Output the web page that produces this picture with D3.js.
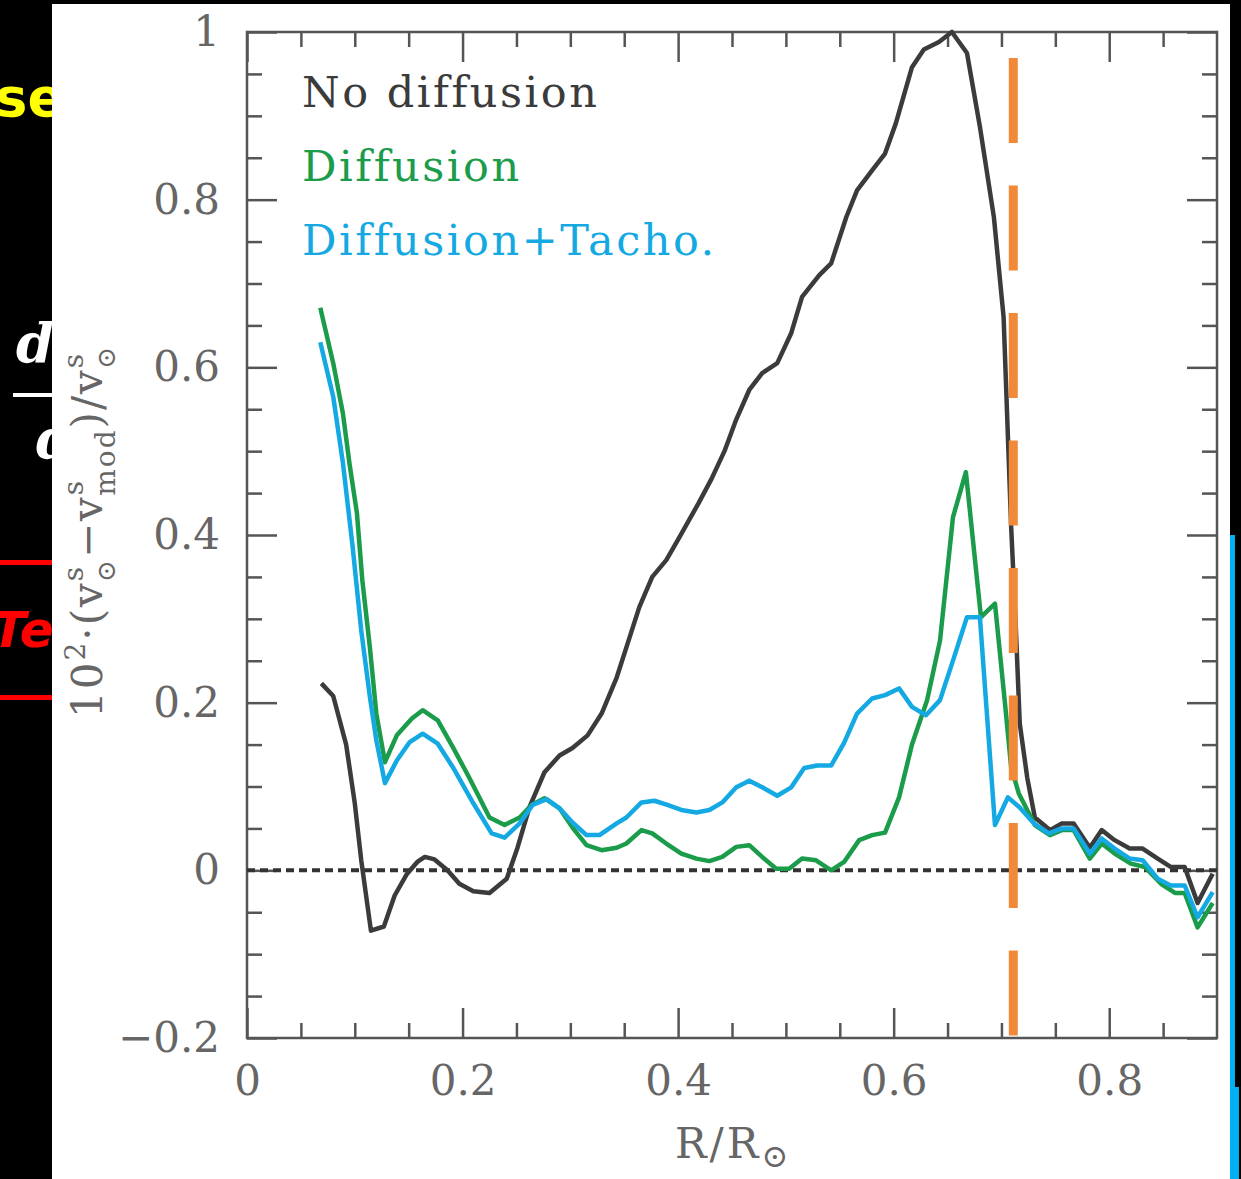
<!DOCTYPE html>
<html>
<head>
<meta charset="utf-8">
<script src="https://cdn.jsdelivr.net/npm/d3@7"></script>
<style>
  body { margin: 0; background: #000; }
  svg { display: block; }
</style>
</head>
<body>
<div id="visualContainer"></div>
<script>
// No diffusion (black)
var noDiffR = [0.069,0.080,0.092,0.100,0.106,0.115,0.127,0.137,0.148,0.158,0.165,0.174,0.186,0.197,0.210,0.225,0.241,0.251,0.262,0.276,0.290,0.302,0.316,0.329,0.343,0.352,0.364,0.376,0.389,0.401,0.419,0.431,0.443,0.454,0.466,0.478,0.492,0.505,0.515,0.531,0.542,0.556,0.566,0.580,0.592,0.602,0.617,0.628,0.642,0.654,0.668,0.680,0.693,0.702,0.709,0.713,0.717,0.724,0.731,0.745,0.756,0.767,0.782,0.793,0.805,0.819,0.831,0.845,0.857,0.870,0.882,0.896];
var noDiffV = [0.223,0.208,0.150,0.080,0.012,-0.072,-0.067,-0.030,-0.005,0.010,0.016,0.013,0.000,-0.016,-0.025,-0.027,-0.010,0.027,0.075,0.117,0.137,0.146,0.161,0.187,0.230,0.266,0.314,0.350,0.370,0.397,0.438,0.467,0.500,0.538,0.573,0.593,0.605,0.641,0.684,0.710,0.724,0.779,0.811,0.835,0.855,0.891,0.958,0.979,0.988,1.000,0.975,0.887,0.779,0.660,0.410,0.300,0.175,0.110,0.063,0.048,0.056,0.056,0.027,0.048,0.036,0.026,0.026,0.014,0.004,0.004,-0.039,-0.004];

// Diffusion (green)
var diffR = [0.068,0.080,0.089,0.095,0.102,0.107,0.114,0.120,0.128,0.139,0.153,0.163,0.177,0.191,0.206,0.225,0.239,0.253,0.264,0.276,0.290,0.302,0.315,0.329,0.343,0.352,0.366,0.376,0.389,0.403,0.417,0.429,0.441,0.454,0.466,0.478,0.491,0.503,0.515,0.528,0.542,0.554,0.568,0.580,0.592,0.605,0.617,0.631,0.643,0.655,0.667,0.681,0.694,0.703,0.709,0.716,0.731,0.745,0.756,0.767,0.782,0.793,0.805,0.820,0.833,0.848,0.861,0.870,0.882,0.896];
var diffV = [0.671,0.605,0.545,0.486,0.426,0.346,0.266,0.187,0.129,0.161,0.181,0.191,0.179,0.147,0.111,0.063,0.054,0.063,0.078,0.086,0.074,0.051,0.030,0.024,0.027,0.032,0.048,0.044,0.032,0.020,0.014,0.011,0.016,0.028,0.030,0.016,0.002,0.002,0.014,0.012,0.000,0.010,0.036,0.042,0.045,0.087,0.150,0.203,0.274,0.421,0.475,0.302,0.318,0.203,0.123,0.092,0.054,0.042,0.048,0.048,0.014,0.032,0.020,0.008,0.004,-0.016,-0.027,-0.027,-0.068,-0.039];

// Diffusion + Tachocline (blue)
var tachoR = [0.068,0.080,0.089,0.098,0.106,0.114,0.120,0.128,0.139,0.151,0.163,0.177,0.191,0.210,0.227,0.239,0.253,0.265,0.278,0.290,0.302,0.315,0.327,0.343,0.352,0.366,0.378,0.390,0.403,0.417,0.429,0.441,0.454,0.466,0.478,0.492,0.505,0.517,0.529,0.542,0.554,0.566,0.580,0.592,0.605,0.617,0.630,0.643,0.656,0.668,0.680,0.694,0.706,0.717,0.730,0.744,0.756,0.767,0.782,0.793,0.805,0.819,0.831,0.845,0.857,0.870,0.882,0.896];
var tachoV = [0.630,0.565,0.486,0.386,0.286,0.207,0.155,0.104,0.131,0.153,0.163,0.151,0.123,0.080,0.044,0.039,0.056,0.078,0.085,0.074,0.057,0.042,0.042,0.056,0.063,0.081,0.083,0.078,0.072,0.069,0.072,0.081,0.099,0.107,0.099,0.089,0.099,0.122,0.125,0.125,0.152,0.187,0.205,0.209,0.217,0.195,0.185,0.203,0.254,0.302,0.302,0.054,0.087,0.075,0.056,0.044,0.050,0.050,0.020,0.038,0.026,0.014,0.012,-0.010,-0.018,-0.018,-0.056,-0.026];

var seriesNames = ["No diffusion", "Diffusion", "Diffusion+Tacho."];
var seriesColors = ["#3b3b3b", "#1a9c4a", "#14a9e3"];
var baseOfCZ = 0.711;   // orange dashed line
var xMajor = [0, 0.2, 0.4, 0.6, 0.8];
var yMajor = [-0.2, 0, 0.2, 0.4, 0.6, 0.8, 1];

var W = 1241, H = 1179;
var svgCanvas = d3.select("#visualContainer").append("svg")
  .attr("width", W).attr("height", H);

// slide background
svgCanvas.append("rect").attr("width", W).attr("height", H).attr("fill", "#000");

// bits of the slide peeking out on the left
svgCanvas.append("text").attr("x", 64).attr("y", 116).attr("text-anchor", "end")
  .attr("font-family", "DejaVu Sans").attr("font-weight", "bold").attr("font-size", 54)
  .attr("fill", "#ffff00").text("se");
svgCanvas.append("text").attr("x", 16).attr("y", 362)
  .attr("font-family", "DejaVu Serif").attr("font-style", "italic").attr("font-weight", "bold")
  .attr("font-size", 54).attr("fill", "#fff").text("d");
svgCanvas.append("rect").attr("x", 13).attr("y", 393).attr("width", 45).attr("height", 4).attr("fill", "#fff");
svgCanvas.append("text").attr("x", 36).attr("y", 458)
  .attr("font-family", "DejaVu Serif").attr("font-style", "italic").attr("font-weight", "bold")
  .attr("font-size", 54).attr("fill", "#fff").text("d");
svgCanvas.append("rect").attr("x", 0).attr("y", 560).attr("width", 60).attr("height", 5).attr("fill", "#ff0000");
svgCanvas.append("rect").attr("x", 0).attr("y", 695).attr("width", 60).attr("height", 5).attr("fill", "#ff0000");
svgCanvas.append("text").attr("x", -8).attr("y", 647)
  .attr("font-family", "DejaVu Sans").attr("font-style", "italic").attr("font-weight", "bold")
  .attr("font-size", 50).attr("fill", "#ff0000").text("Te");

// white picture of the plot
svgCanvas.append("rect").attr("x", 52).attr("y", 4).attr("width", 1178).attr("height", H - 4).attr("fill", "#fff");
// blue bar on the right edge
svgCanvas.append("rect").attr("x", 1230).attr("y", 535).attr("width", 5).attr("height", 560).attr("fill", "#00b0f0");
svgCanvas.append("rect").attr("x", 1230).attr("y", 1087).attr("width", 9).attr("height", 92).attr("fill", "#00b0f0");

var plotL = 247, plotR = 1217, plotT = 32, plotB = 1038;
var x = d3.scaleLinear().domain([0, 0.9]).range([plotL, plotR]);
var y = d3.scaleLinear().domain([-0.2, 1]).range([plotB, plotT]);

var axisColor = "#555";
var tickFont = "DejaVu Serif";

function minorTicks(lo, hi) {
  var out = [];
  for (var i = Math.round(lo / 0.05); i <= Math.round(hi / 0.05); i++) {
    if (i % 4 !== 0) out.push(i * 0.05);
  }
  return out;
}

function styleAxis(g) {
  g.select(".domain").remove();
  g.selectAll(".tick line").attr("stroke", axisColor).attr("stroke-width", 2.5);
  g.selectAll(".tick text").attr("fill", "#666").attr("font-family", tickFont).attr("font-size", 42);
}

// bottom axis with labels
svgCanvas.append("g").attr("transform", "translate(0," + plotB + ")")
  .call(d3.axisBottom(x).tickValues(xMajor).tickSize(-30).tickPadding(27)
    .tickFormat(function(d){ return d === 0 ? "0" : d3.format(".1f")(d); }))
  .call(styleAxis);
svgCanvas.append("g").attr("transform", "translate(0," + plotB + ")")
  .call(d3.axisBottom(x).tickValues(minorTicks(0.05, 0.85)).tickSize(-15).tickFormat(""))
  .call(styleAxis);
// top axis
svgCanvas.append("g").attr("transform", "translate(0," + plotT + ")")
  .call(d3.axisTop(x).tickValues(xMajor).tickSize(-30).tickFormat(""))
  .call(styleAxis);
svgCanvas.append("g").attr("transform", "translate(0," + plotT + ")")
  .call(d3.axisTop(x).tickValues(minorTicks(0.05, 0.85)).tickSize(-15).tickFormat(""))
  .call(styleAxis);
// left axis with labels
svgCanvas.append("g").attr("transform", "translate(" + plotL + ",0)")
  .call(d3.axisLeft(y).tickValues(yMajor).tickSize(-30).tickPadding(27)
    .tickFormat(function(d){ return d === 0 ? "0" : (d === 1 ? "1" : d3.format(".1f")(d).replace("-", "\u2212")); }))
  .call(styleAxis);
svgCanvas.append("g").attr("transform", "translate(" + plotL + ",0)")
  .call(d3.axisLeft(y).tickValues(minorTicks(-0.15, 0.95)).tickSize(-15).tickFormat(""))
  .call(styleAxis);
// right axis
svgCanvas.append("g").attr("transform", "translate(" + plotR + ",0)")
  .call(d3.axisRight(y).tickValues(yMajor).tickSize(-30).tickFormat(""))
  .call(styleAxis);
svgCanvas.append("g").attr("transform", "translate(" + plotR + ",0)")
  .call(d3.axisRight(y).tickValues(minorTicks(-0.15, 0.95)).tickSize(-15).tickFormat(""))
  .call(styleAxis);

// frame
svgCanvas.append("rect").attr("x", plotL).attr("y", plotT)
  .attr("width", plotR - plotL).attr("height", plotB - plotT)
  .attr("fill", "none").attr("stroke", axisColor).attr("stroke-width", 2.5);

// zero line
svgCanvas.append("line").attr("x1", x(0)).attr("x2", x(0.9)).attr("y1", y(0)).attr("y2", y(0))
  .attr("stroke", "#333").attr("stroke-width", 4).attr("stroke-dasharray", "8,5");

// curves
var line = d3.line().x(function(d){ return x(d[0]); }).y(function(d){ return y(d[1]); });
var allSeries = [d3.zip(noDiffR, noDiffV), d3.zip(diffR, diffV), d3.zip(tachoR, tachoV)];
svgCanvas.selectAll("path.curve")
  .data(allSeries)
  .enter()
    .append("path")
      .attr("class", "curve")
      .attr("d", line)
      .attr("fill", "none")
      .attr("stroke", function(d, i){ return seriesColors[i]; })
      .attr("stroke-width", 4.5)
      .attr("stroke-linejoin", "round");

// base of the convective zone
svgCanvas.append("line").attr("x1", x(baseOfCZ)).attr("x2", x(baseOfCZ))
  .attr("y1", 58).attr("y2", plotB)
  .attr("stroke", "#f08a3a").attr("stroke-width", 9).attr("stroke-dasharray", "85,42.5");

// legend
svgCanvas.selectAll("text.legend")
  .data(seriesNames)
  .enter()
    .append("text")
      .attr("class", "legend")
      .attr("x", 302)
      .attr("y", function(d, i){ return 107 + i * 74; })
      .attr("font-family", tickFont)
      .attr("font-size", 43)
      .attr("letter-spacing", 2.5)
      .attr("fill", function(d, i){ return seriesColors[i]; })
      .text(function(d){ return d; });

// x label R/R_sun
var xl = svgCanvas.append("text").attr("x", 675).attr("y", 1158)
  .attr("font-family", tickFont).attr("font-size", 42).attr("letter-spacing", 3).attr("fill", "#666");
xl.append("tspan").text("R/R");
xl.append("tspan").attr("font-size", 32).attr("dy", 9).text("\u2299");

// y label
var yl = svgCanvas.append("text").attr("transform", "translate(102,718) rotate(-90)")
  .attr("font-family", tickFont).attr("font-size", 42).attr("letter-spacing", 2).attr("fill", "#666");
yl.append("tspan").text("10");
yl.append("tspan").attr("font-size", 28).attr("dy", -17).text("2");
yl.append("tspan").attr("dy", 17).text("\u00b7(v");
yl.append("tspan").attr("font-size", 28).attr("dy", -19).text("s");
yl.append("tspan").attr("font-size", 26).attr("dx", -17).attr("dy", 32).text("\u2299");
yl.append("tspan").attr("dy", -13).text("\u2212v");
yl.append("tspan").attr("font-size", 28).attr("dy", -19).text("s");
yl.append("tspan").attr("font-size", 28).attr("dx", -17).attr("dy", 32).text("mod");
yl.append("tspan").attr("dy", -13).text(")/v");
yl.append("tspan").attr("font-size", 28).attr("dy", -19).text("s");
yl.append("tspan").attr("font-size", 26).attr("dx", -17).attr("dy", 32).text("\u2299");
</script>
</body>
</html>
